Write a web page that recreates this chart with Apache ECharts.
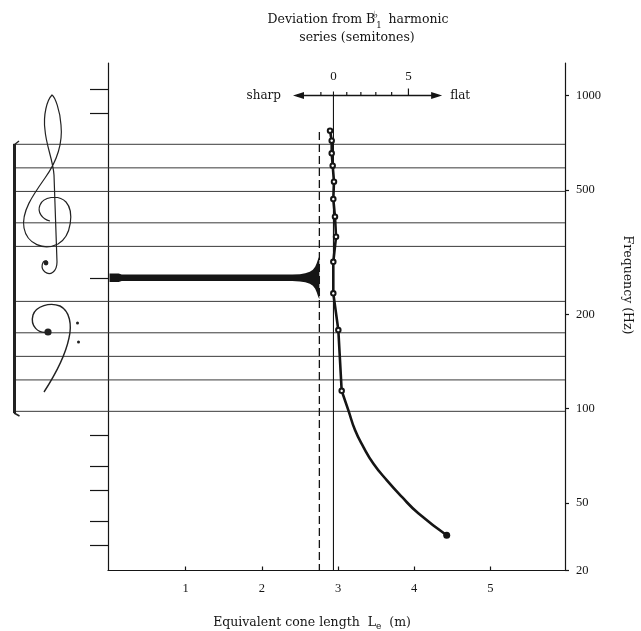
<!DOCTYPE html>
<html><head><meta charset="utf-8">
<script src="https://cdn.jsdelivr.net/npm/echarts@6/dist/echarts.min.js"></script>
<style>html,body{margin:0;padding:0;background:#fff}#chart{width:641px;height:631px}</style>
</head><body><div id="chart"></div>
<script>
// Resonances of the horn: frequency (Hz) and equivalent cone length (m)
const resonanceFreq   = [771.9, 717.2, 653.6, 596.7, 530.4, 467.0, 410.1, 353.9, 294.4, 233.4, 178.2, 114.0];
const resonanceLength = [2.895, 2.917, 2.917, 2.930, 2.947, 2.938, 2.960, 2.974, 2.938, 2.938, 3.004, 3.048];
// Continuous equivalent-length curve below the second resonance
const curveFreq   = [114.0, 98.9, 85.4, 75.5, 66.8, 59.1, 52.3, 46.3, 39.4];
const curveLength = [3.048, 3.135, 3.223, 3.332, 3.463, 3.639, 3.836, 4.054, 4.427];
// Bore profile drawn along middle C: distance along the horn (m) and radius (mm)
const borePos    = [0, 0.12, 0.16, 2.40, 2.50, 2.57, 2.63, 2.67, 2.70, 2.72, 2.74, 2.755];
const boreRadius = [8.4, 8.4, 6.4, 6.6, 7.2, 9, 12, 16, 22, 29, 38, 43];
// Musical staff (Hz)
const trebleStaff = [329.63, 392.00, 493.88, 587.33, 698.46];   // E4 G4 B4 D5 F5
const bassStaff   = [98.00, 123.47, 146.83, 174.61, 220.00];    // G2 B2 D3 F3 A3
const ledgerNotes = [1046.5, 880.0, 261.63, 82.41, 65.41, 55.0, 43.65, 36.71]; // C6 A5 C4 E2 C2 A1 F1 D1
const MIDDLE_C = 261.63;
// Axis ticks
const lengthTicks = [1, 2, 3, 4, 5];
const freqTicks = [50, 100, 200, 500, 1000];
const freqFloorLabel = '20';
const semitoneTicks = [-1, 0, 1, 2, 3, 4, 5];
const semitoneLabels = [0, 5];

const lg = Math.log10;
const X_MIN = -0.02, X_MAX = 5.98;
const F_MIN = 30.4, F_MAX = 1270;
const L0 = 2.94;            // cone length of the B-flat-1 harmonic series
const BELL_END = 2.755;     // bell mouth position
const DASH_TOP_FREQ = 764;
const ARROW_FREQ = 1000;
const ARROW_FROM = -3.45, ARROW_TO = 6.85;   // semitones
const BORE_PX_PER_MM = 0.5;
const STAFF_LEFT_PAD = 95;

const FONT = '"Liberation Serif", "Times New Roman", serif';
const WIDE_FONT = '"DejaVu Serif", "Liberation Serif", serif';
const INK = '#151515';

const chart = echarts.init(document.getElementById('chart'));

const freqTickPos = [lg(F_MIN)].concat(freqTicks.map(lg));
const freqTickText = [freqFloorLabel].concat(freqTicks.map(String));

function staffRender(params, api) {
  const v = api.value(1);
  const p1 = api.coord([X_MIN, v]);
  const p2 = api.coord([X_MAX, v]);
  return { type: 'line', shape: { x1: p1[0] - STAFF_LEFT_PAD, y1: p1[1], x2: p2[0], y2: p2[1] },
           style: { stroke: '#3a3a3a', lineWidth: 1 } };
}

function boreRender(params, api) {
  const yc = api.coord([0, lg(MIDDLE_C)])[1];
  const top = [], bot = [];
  borePos.forEach((p, i) => {
    const x = api.coord([p, lg(MIDDLE_C)])[0];
    const r = boreRadius[i] * BORE_PX_PER_MM;
    top.push([x, yc - r]);
    bot.push([x, yc + r]);
  });
  return { type: 'polygon', shape: { points: top.concat(bot.reverse()) }, style: { fill: INK } };
}

function guideRender(params, api) {
  const yA = api.coord([L0, lg(ARROW_FREQ)])[1];
  const yB = api.coord([L0, lg(F_MIN)])[1];
  const semiX = s => api.coord([L0 * Math.pow(2, s / 12), lg(ARROW_FREQ)])[0];
  const x0 = semiX(0);
  const xL = semiX(ARROW_FROM), xR = semiX(ARROW_TO);
  const xBell = api.coord([BELL_END, lg(ARROW_FREQ)])[0];
  const yDash = api.coord([BELL_END, lg(DASH_TOP_FREQ)])[1];
  const kids = [];
  // zero-deviation line
  kids.push({ type: 'line', shape: { x1: x0, y1: yA - 4, x2: x0, y2: yB }, style: { stroke: INK, lineWidth: 1.1 } });
  // bell-mouth dashed line
  kids.push({ type: 'line', shape: { x1: xBell, y1: yDash, x2: xBell, y2: yB },
              style: { stroke: INK, lineWidth: 1.3, lineDash: [8, 4] } });
  // deviation scale arrow
  kids.push({ type: 'line', shape: { x1: xL + 4, y1: yA, x2: xR - 4, y2: yA }, style: { stroke: INK, lineWidth: 1.5 } });
  kids.push({ type: 'polygon', shape: { points: [[xL, yA], [xL + 11, yA - 3.5], [xL + 11, yA + 3.5]] }, style: { fill: INK } });
  kids.push({ type: 'polygon', shape: { points: [[xR, yA], [xR - 11, yA - 3.5], [xR - 11, yA + 3.5]] }, style: { fill: INK } });
  semitoneTicks.forEach(s => {
    if (s === 0) return;
    const x = semiX(s);
    const len = semitoneLabels.indexOf(s) >= 0 ? 7 : 3.5;
    kids.push({ type: 'line', shape: { x1: x, y1: yA - len, x2: x, y2: yA }, style: { stroke: INK, lineWidth: 1.2 } });
  });
  semitoneLabels.forEach(s => {
    kids.push({ type: 'text', style: { text: String(s), x: semiX(s), y: yA - 19, fill: INK,
      font: '13px ' + FONT, align: 'center', verticalAlign: 'middle' } });
  });
  kids.push({ type: 'text', style: { text: 'sharp', x: xL - 12, y: yA, fill: INK,
    font: '12px ' + WIDE_FONT, align: 'right', verticalAlign: 'middle' } });
  kids.push({ type: 'text', style: { text: 'flat', x: xR + 8, y: yA, fill: INK,
    font: '12px ' + WIDE_FONT, align: 'left', verticalAlign: 'middle' } });
  return { type: 'group', children: kids };
}

// Clefs and staff bracket, drawn in page pixels to the left of the plot
const trebleClef = 'M50,221 C42,219 37,212 40,205 C43,197 58,194 66,202 C74,211 72,236 58,244 C44,251 27,244 24,228 ' +
  'C21,212 33,195 45,178 C55,164 63,145 61,125 C60,110 55,97 52,95 C47,100 43,115 45,130 C46,145 53,160 54,175 ' +
  'L57,262 C57,272 50,276 45,272 C40,268 42,260 47,261';
const bassClef = 'M48,332 C38,334 30,326 33,315 C36,306 50,302 60,306 C70,311 72,325 69,338 C65,357 55,375 44,392';

function clefRender() {
  const ink = '#222';
  return { type: 'group', children: [
    { type: 'path', shape: { pathData: trebleClef }, style: { fill: null, stroke: ink, lineWidth: 1.2 } },
    { type: 'circle', shape: { cx: 46, cy: 263, r: 2.4 }, style: { fill: ink } },
    { type: 'path', shape: { pathData: bassClef }, style: { fill: null, stroke: ink, lineWidth: 1.4 } },
    { type: 'circle', shape: { cx: 48, cy: 332, r: 3.6 }, style: { fill: ink } },
    { type: 'circle', shape: { cx: 77.5, cy: 323, r: 1.5 }, style: { fill: ink } },
    { type: 'circle', shape: { cx: 78.5, cy: 342, r: 1.5 }, style: { fill: ink } },
    { type: 'line', shape: { x1: 14.5, y1: 144, x2: 14.5, y2: 413 }, style: { stroke: ink, lineWidth: 3 } },
    { type: 'line', shape: { x1: 14, y1: 145, x2: 19, y2: 141 }, style: { stroke: ink, lineWidth: 1.5 } },
    { type: 'line', shape: { x1: 14, y1: 413, x2: 19.5, y2: 416 }, style: { stroke: ink, lineWidth: 1.5 } }
  ] };
}

const resonanceData = resonanceLength.map((x, i) => [x, lg(resonanceFreq[i])]);
const curveData = curveLength.map((x, i) => {
  const last = i === curveLength.length - 1;
  return { value: [x, lg(curveFreq[i])], symbol: last ? 'circle' : 'none', symbolSize: 7 };
});

const option = {
  animation: false,
  backgroundColor: '#fff',
  grid: { left: 108, right: 76, top: 63, bottom: 60.5 },
  xAxis: {
    type: 'value', min: X_MIN, max: X_MAX,
    axisLine: { onZero: false, lineStyle: { color: INK, width: 1.2 } },
    splitLine: { show: false },
    axisTick: { customValues: lengthTicks, inside: true, length: 4, lineStyle: { color: INK, width: 1.2 } },
    axisLabel: { customValues: lengthTicks, margin: 12, color: INK, fontFamily: FONT, fontSize: 12.5 }
  },
  yAxis: [
    {
      type: 'value', position: 'right', min: lg(F_MIN), max: lg(F_MAX),
      axisLine: { show: true, onZero: false, lineStyle: { color: INK, width: 1.2 } },
      splitLine: { show: false },
      axisTick: { show: true, customValues: freqTickPos, length: 4, lineStyle: { color: INK, width: 1.2 } },
      axisLabel: {
        customValues: freqTickPos, margin: 11, color: INK, fontFamily: FONT, fontSize: 12.5,
        formatter: v => {
          let best = 0;
          freqTickPos.forEach((p, i) => { if (Math.abs(p - v) < Math.abs(freqTickPos[best] - v)) best = i; });
          return freqTickText[best];
        }
      }
    },
    {
      type: 'value', position: 'left', min: lg(F_MIN), max: lg(F_MAX),
      axisLine: { show: true, onZero: false, lineStyle: { color: INK, width: 1.2 } },
      splitLine: { show: false },
      axisTick: { show: true, customValues: ledgerNotes.map(lg), length: 18, lineStyle: { color: INK, width: 1.2 } },
      axisLabel: { show: false }
    }
  ],
  series: [
    { type: 'custom', renderItem: staffRender, clip: false, silent: true,
      data: trebleStaff.concat(bassStaff).map(f => [X_MIN, lg(f)]), z: 1 },
    { type: 'custom', renderItem: boreRender, clip: false, silent: true, data: [[0, lg(MIDDLE_C)]], z: 3 },
    { type: 'custom', renderItem: guideRender, clip: false, silent: true, data: [[L0, lg(ARROW_FREQ)]], z: 2 },
    { type: 'custom', renderItem: clefRender, clip: false, silent: true, data: [[0, lg(MIDDLE_C)]], z: 2 },
    { type: 'line', data: resonanceData, symbol: 'emptyCircle', symbolSize: 4.5, z: 5,
      lineStyle: { color: INK, width: 2.6 }, itemStyle: { color: INK, borderWidth: 1 } },
    { type: 'line', data: curveData, smooth: 0.5, z: 5,
      lineStyle: { color: INK, width: 2.6 }, itemStyle: { color: INK } }
  ],
  graphic: [
    { type: 'text', x: 358, y: 20, style: {
        text: 'Deviation from B{fl|♭}{sub|1} harmonic', fill: INK, font: '12.5px ' + WIDE_FONT,
        align: 'center', verticalAlign: 'middle', lineHeight: 20,
        rich: { fl: { fontSize: 10, fontFamily: 'DejaVu Sans', verticalAlign: 'top', lineHeight: 20, width: 1 },
                sub: { fontSize: 8.5, fontFamily: WIDE_FONT, verticalAlign: 'bottom', lineHeight: 20, padding: [0, 3, 0, 0] } } } },
    { type: 'text', x: 357, y: 38, style: { text: 'series (semitones)', fill: INK, font: '12.5px ' + WIDE_FONT,
        align: 'center', verticalAlign: 'middle' } },
    { type: 'text', x: 312, y: 623, style: {
        text: 'Equivalent cone length  L{sub|e}  (m)', fill: INK, font: '12.5px ' + WIDE_FONT,
        align: 'center', verticalAlign: 'middle', lineHeight: 16,
        rich: { sub: { fontSize: 9, fontFamily: WIDE_FONT, verticalAlign: 'bottom', lineHeight: 16 } } } },
    { type: 'text', x: 627, y: 285, rotation: -Math.PI / 2, style: {
        text: 'Frequency (Hz)', fill: INK, font: '12.5px ' + WIDE_FONT, align: 'center', verticalAlign: 'middle' } }
  ]
};
chart.setOption(option);
</script>
</body></html>
